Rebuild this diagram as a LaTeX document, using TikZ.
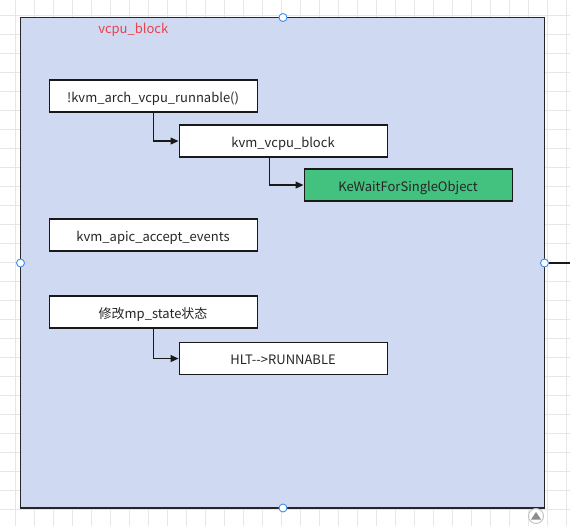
\documentclass[tikz,border=0pt]{standalone}
\usepackage{fontspec}
\setmainfont{Noto Sans CJK SC}
\usetikzlibrary{arrows.meta, calc}
\definecolor{panelfill}{HTML}{D0D9F2}
\definecolor{greenfill}{HTML}{43C17F}
\definecolor{titlered}{HTML}{E8424A}
\definecolor{handleblue}{HTML}{3D8EF0}
\definecolor{gridgray}{HTML}{E6E6E6}

\begin{document}
\begin{tikzpicture}[
    x=1pt, y=-1pt,
    >={Triangle[length=8pt,width=7pt]},
    gridline/.style ={gridgray, line width=0.9pt},
    panel/.style    ={draw=black!85, line width=1.4pt, fill=panelfill},
    fnbox/.style    ={draw=black!90, line width=1.1pt, fill=white, anchor=north west,
                      minimum width=208pt, minimum height=32pt, inner sep=0pt,
                      text height=12.5pt, text depth=0pt,
                      font=\fontsize{13}{15}\selectfont, text=black!85},
    hotbox/.style   ={fnbox, fill=greenfill},
    flow/.style     ={->, line width=1.1pt, black!90},
    handle/.style   ={circle, draw=handleblue, fill=white, line width=0.9pt,
                      minimum size=8pt, inner sep=0pt},
]
\useasboundingbox (0,0) rectangle (570,526);
\fill[white] (0,0) rectangle (570,526);
% background grid
\foreach \g in {0,...,30} {
  \draw[gridline] (-3.3+19*\g,0) -- (-3.3+19*\g,526);
  \draw[gridline] (0,-3.3+19*\g) -- (570,-3.3+19*\g);
}
% the group
\draw[panel] (20.5,17.5) rectangle (544.5,508);
\node[text=titlered, anchor=base, font=\fontsize{13}{15}\selectfont] (title) at (133.3,33.3) {vcpu\_block};

\node[fnbox]  (runnable) at (48.5,79.5)  {!kvm\_arch\_vcpu\_runnable()};
\node[fnbox]  (block)    at (178.5,124.5) {kvm\_vcpu\_block};
\node[hotbox] (wait)     at (303.5,168.5) {KeWaitForSingleObject};
\node[fnbox]  (apic)     at (48.5,218.5) {kvm\_apic\_accept\_events};
\node[fnbox]  (mpstate)  at (48.5,295.5) {修改mp\_state状态};
\node[fnbox]  (hlt)      at (178.5,342)  {HLT-{}->RUNNABLE};

\draw[flow] (runnable.south) |- (block.west);
\draw[flow] ([xshift=-13.5pt]block.south) |- (wait.west);
\draw[flow] (mpstate.south) |- (hlt.west);

% selection handles
\node[handle] (hn) at (283,17.5) {};
\node[handle] (hw) at (20.5,263) {};
\node[handle] (he) at (544.5,263) {};
\node[handle] (hs) at (283,508) {};
\coordinate (out) at (570,263);
\draw[line width=1.1pt, black!90] (he.east) -- (out);

% scroll button
\node[circle, draw=black!25, fill=white, line width=0.9pt, minimum size=15pt, inner sep=0pt] (up) at (536,516) {};
\fill[black!45] ($(up.center)+(0,-4)$) -- ($(up.center)+(5,3.5)$) -- ($(up.center)+(-5,3.5)$) -- cycle;
\end{tikzpicture}
\end{document}
